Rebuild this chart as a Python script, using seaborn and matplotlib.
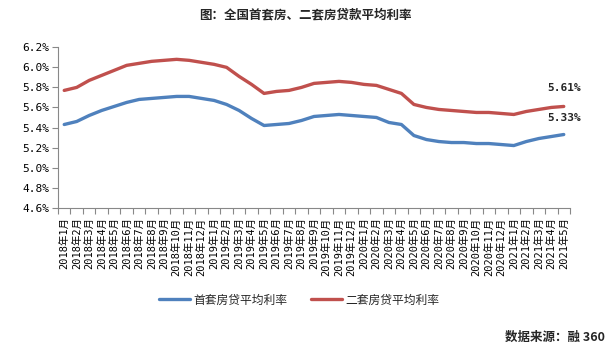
import pandas as pd
import seaborn as sns
import matplotlib
matplotlib.use('Agg')
import matplotlib.pyplot as plt
from matplotlib.ticker import FixedLocator, FuncFormatter

# Data (monthly average mortgage rates, %)
months = ['2018年1月', '2018年2月', '2018年3月', '2018年4月', '2018年5月', '2018年6月',
          '2018年7月', '2018年8月', '2018年9月', '2018年10月', '2018年11月', '2018年12月',
          '2019年1月', '2019年2月', '2019年3月', '2019年4月', '2019年5月', '2019年6月',
          '2019年7月', '2019年8月', '2019年9月', '2019年10月', '2019年11月', '2019年12月',
          '2020年1月', '2020年2月', '2020年3月', '2020年4月', '2020年5月', '2020年6月',
          '2020年7月', '2020年8月', '2020年9月', '2020年10月', '2020年11月', '2020年12月',
          '2021年1月', '2021年2月', '2021年3月', '2021年4月', '2021年5月']
first_home = [5.43, 5.46, 5.52, 5.57, 5.61, 5.65, 5.68, 5.69, 5.70, 5.71, 5.71, 5.69,
              5.67, 5.63, 5.57, 5.49, 5.42, 5.43, 5.44, 5.47, 5.51, 5.52, 5.53, 5.52,
              5.51, 5.50, 5.45, 5.43, 5.32, 5.28, 5.26, 5.25, 5.25, 5.24, 5.24, 5.23,
              5.22, 5.26, 5.29, 5.31, 5.33]
second_home = [5.77, 5.80, 5.87, 5.92, 5.97, 6.02, 6.04, 6.06, 6.07, 6.08, 6.07, 6.05,
               6.03, 6.00, 5.91, 5.83, 5.74, 5.76, 5.77, 5.80, 5.84, 5.85, 5.86, 5.85,
               5.83, 5.82, 5.78, 5.74, 5.63, 5.60, 5.58, 5.57, 5.56, 5.55, 5.55, 5.54,
               5.53, 5.56, 5.58, 5.60, 5.61]
series_names = ['首套房贷平均利率', '二套房贷平均利率']
colors = ['#4F81BD', '#C0504D']
y_ticks = [4.6, 4.8, 5.0, 5.2, 5.4, 5.6, 5.8, 6.0, 6.2]

df = pd.DataFrame({
    'idx': list(range(len(months))) * 2,
    'rate': first_home + second_home,
    'series': [series_names[0]] * len(months) + [series_names[1]] * len(months),
})

sns.set_style('white')
plt.rcParams['font.family'] = ['Noto Sans CJK SC', 'DejaVu Sans']

fig = plt.figure(figsize=(6.11, 3.56), dpi=100)
ax = fig.add_axes([0.0949, 0.4166, 0.8380, 0.4505])

sns.lineplot(data=df, x='idx', y='rate', hue='series', palette=colors,
             linewidth=2.4, ax=ax, legend=False)

ax.set_xlim(-0.5, len(months) - 0.5)
ax.set_ylim(4.6, 6.2)
ax.set_xlabel('')
ax.set_ylabel('')

# y axis
ax.yaxis.set_major_locator(FixedLocator(y_ticks))
ax.yaxis.set_major_formatter(FuncFormatter(lambda v, p: f'{v:.1f}%'))
ax.tick_params(axis='y', which='major', left=True, length=4, width=0.8,
               color='#888888', pad=2, labelsize=8, labelcolor='black')
for lab in ax.get_yticklabels():
    lab.set_family('DejaVu Sans Mono')

# x axis: labels at categories, tick marks between categories
ax.set_xticks(range(len(months)))
ax.set_xticklabels(months, rotation=90, va='top', ha='center')
ax.set_xticks([i - 0.5 for i in range(len(months) + 1)], minor=True)
ax.tick_params(axis='x', which='major', length=0, pad=7, labelsize=7.5, labelcolor='black')
ax.tick_params(axis='x', which='minor', bottom=True, length=4, width=0.8, color='#888888')
for lab in ax.get_xticklabels():
    lab.set_family(['DejaVu Sans Mono', 'Noto Sans CJK SC'])

for side in ['top', 'right']:
    ax.spines[side].set_visible(False)
for side in ['left', 'bottom']:
    ax.spines[side].set_color('#888888')
    ax.spines[side].set_linewidth(0.8)

# end-point labels
last = len(months) - 1
ax.annotate(f'{second_home[-1]:.2f}%', (last, second_home[-1]), xytext=(0, 13),
            textcoords='offset points', ha='center', va='center', fontsize=8,
            fontweight='bold', family='DejaVu Sans Mono')
ax.annotate(f'{first_home[-1]:.2f}%', (last, first_home[-1]), xytext=(0, 12),
            textcoords='offset points', ha='center', va='center', fontsize=8,
            fontweight='bold', family='DejaVu Sans Mono')

# legend
handles = ax.get_lines()[:2]
fig.legend(handles, series_names, loc='center', bbox_to_anchor=(0.49, 0.157),
           ncol=2, frameon=False, fontsize=8.5, handlelength=2.6,
           columnspacing=2.0, handletextpad=0.3)

fig.text(0.5, 0.958, '图：全国首套房、二套房贷款平均利率', ha='center', va='center',
         fontsize=9, fontweight='bold')
fig.text(0.99, 0.052, '数据来源：融 360', ha='right', va='center',
         fontsize=9, fontweight='bold')

fig.savefig('out.png', dpi=100)
